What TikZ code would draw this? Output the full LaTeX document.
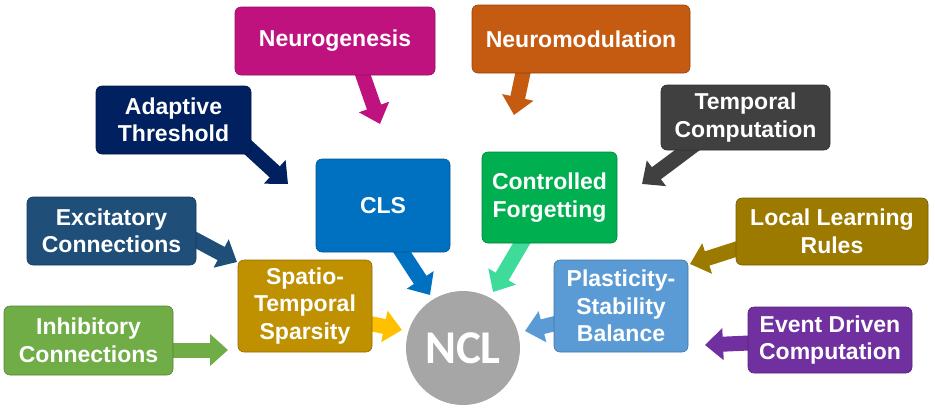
\documentclass[tikz,border=0pt]{standalone}
\usepackage{fontspec}
\setmainfont{Liberation Sans}
\newfontfamily\nclfont{Carlito}
\usepackage{tikz}
\usetikzlibrary{arrows.meta}

\definecolor{neurogen}{HTML}{C0127F}
\definecolor{neuromod}{HTML}{C55A11}
\definecolor{adaptive}{HTML}{002060}
\definecolor{temporal}{HTML}{404040}
\definecolor{cls}{HTML}{0070C0}
\definecolor{forget}{HTML}{00B050}
\definecolor{forgetarrow}{HTML}{3FDB9A}
\definecolor{excit}{HTML}{1F4E79}
\definecolor{local}{HTML}{9C7A00}
\definecolor{spatio}{HTML}{BF9000}
\definecolor{spatioarrow}{HTML}{FFC000}
\definecolor{plast}{HTML}{5B9BD5}
\definecolor{inhib}{HTML}{70AD47}
\definecolor{event}{HTML}{7030A0}
\definecolor{ncl}{HTML}{A6A6A6}

\pgfdeclarelayer{arrows}
\pgfsetlayers{arrows,main}

\tikzset{
  every box/.style={rectangle, rounded corners=6pt, text=white, align=center,
    inner sep=0pt, line width=0.6pt,
    font=\fontsize{23}{27.5}\selectfont\bfseries},
  block arrow/.style={draw=#1, line width=15pt,
    -{Triangle[width=31pt,length=18pt]}}
}

\begin{document}
\begin{tikzpicture}[x=1pt, y=-1pt]
\useasboundingbox (0,0) rectangle (935,413);

\foreach \m/\x/\y/\w/\h/\c/\l in {
    neurogenesis/335/41/200/68/neurogen/{Neurogenesis},
    neuromodulation/581/39/218/68/neuromod/{Neuromodulation},
    adaptive/173.5/120/155/68/adaptive/{Adaptive\\Threshold},
    temporal/745.5/117.5/169/65/temporal/{Temporal\\Computation},
    cls/383/205.5/134/93/cls/{CLS},
    forgetting/549.5/197.5/135/91/forget/{Controlled\\Forgetting},
    excitatory/111.5/231/169/68/excit/{Excitatory\\Connections},
    local/832/231.5/192/67/local/{Local Learning\\Rules},
    sparsity/305/306/134/92/spatio/{Spatio-\\Temporal\\Sparsity},
    plasticity/621/306/134/92/plast/{Plasticity-\\Stability\\Balance},
    inhibitory/88.5/340.5/169/69/inhib/{Inhibitory\\Connections},
    event/830/340/164/66/event/{Event Driven\\Computation}}
  \node [every box, fill=\c, draw=\c!75!black,
    minimum width=\w pt, minimum height=\h pt] (\m) at (\x,\y) {\l};

\node [circle, fill=ncl, minimum size=114pt, inner sep=0pt, text=white,
  font=\nclfont\bfseries\fontsize{47}{47}\selectfont] (ncl) at (463,348) {NCL};

% arrow heads end here
\foreach \m/\x/\y in {neurogenesis/380/124, adaptive/288/184,
    neuromodulation/514/115, temporal/642/184, excitatory/237/262,
    inhibitory/228/350, sparsity/402/330, cls/430/295, forgetting/493/292,
    plasticity/525/331, local/690/264, event/705/345}
  \coordinate (\m-tip) at (\x,\y);

\begin{pgfonlayer}{arrows}
\foreach \m/\dx/\dy/\c in {neurogenesis/24/23/neurogen, adaptive/66.5/20/adaptive,
    neuromodulation/-55.5/22/neuromod, temporal/-48/25/temporal,
    excitatory/74/3.5/excit, inhibitory/72.5/9.5/inhib,
    sparsity/55/15.5/spatioarrow, cls/12.5/36.5/cls,
    forgetting/-21.5/35/forgetarrow, plasticity/-55.5/15/plast,
    local/-84.5/14/local, event/-70/2.5/event}
  \draw [block arrow=\c] ([shift={(\dx,\dy)}]\m.center) -- (\m-tip);
\end{pgfonlayer}

\end{tikzpicture}
\end{document}
